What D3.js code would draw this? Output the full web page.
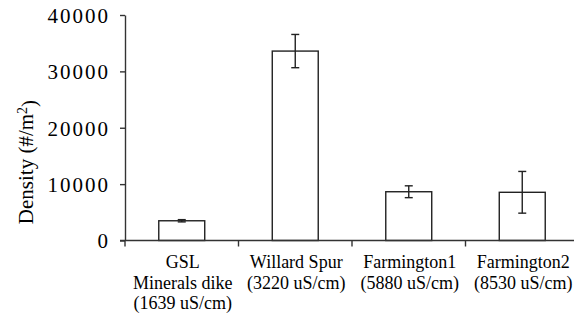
<!DOCTYPE html>
<html>
<head>
<meta charset="utf-8">
<script src="https://cdn.jsdelivr.net/npm/d3@7"></script>
<style>
  html, body { margin: 0; padding: 0; background: #fff; }
  svg { display: block; }
</style>
</head>
<body>
<svg id="chart" width="574" height="320"></svg>
<script>
// Site names and conductivity, one entry of lines per category
const categories = ["GSL", "Willard Spur", "Farmington1", "Farmington2"];
const categoryLines = [
  ["GSL", "Minerals dike", "(1639 uS/cm)"],
  ["Willard Spur", "(3220 uS/cm)"],
  ["Farmington1", "(5880 uS/cm)"],
  ["Farmington2", "(8530 uS/cm)"]
];
// Mean density and its error (#/m²)
const densities = [3500, 33600, 8650, 8550];
const errors = [200, 2950, 1050, 3700];
const yTicks = [0, 10000, 20000, 30000, 40000];

const serif = "'Times New Roman', 'Liberation Serif', Times, serif";
const svg = d3.select("#chart").attr("font-family", serif);
const axisColor = "#333";

const x = d3.scaleBand().domain(categories).range([125, 579]).padding(0);
const y = d3.scaleLinear().domain([0, 40000]).range([240.5, 15]);

const barW = x.bandwidth() * 0.405;
const cx = c => x(c) + x.bandwidth() / 2;

// Bars
svg.append("g").selectAll("rect")
  .data(categories)
  .join("rect")
  .attr("x", (c) => cx(c) - barW / 2)
  .attr("y", (c, i) => y(densities[i]))
  .attr("width", barW)
  .attr("height", (c, i) => y(0) - y(densities[i]))
  .attr("fill", "#fff")
  .attr("stroke", "#222")
  .attr("stroke-width", 1.4);

// Error bars
const capHalf = 4;
const eb = svg.append("g").attr("stroke", "#222").attr("stroke-width", 1.4);
categories.forEach((c, i) => {
  const hi = y(densities[i] + errors[i]);
  const lo = y(densities[i] - errors[i]);
  eb.append("line").attr("x1", cx(c)).attr("x2", cx(c)).attr("y1", hi).attr("y2", lo);
  eb.append("line").attr("x1", cx(c) - capHalf).attr("x2", cx(c) + capHalf).attr("y1", hi).attr("y2", hi);
  eb.append("line").attr("x1", cx(c) - capHalf).attr("x2", cx(c) + capHalf).attr("y1", lo).attr("y2", lo);
});

// Y axis
const yAxis = svg.append("g")
  .attr("transform", "translate(125,0)")
  .call(d3.axisLeft(y).tickValues(yTicks).tickSize(5).tickSizeOuter(0).tickFormat(d3.format("d")));
yAxis.attr("font-family", serif).attr("font-size", 21);
yAxis.selectAll("path, line").attr("stroke", axisColor).attr("stroke-width", 1.4);
yAxis.selectAll("text")
  .attr("x", -15)
  .attr("dy", "0.35em")
  .attr("font-family", serif)
  .attr("font-size", 21)
  .attr("letter-spacing", 2)
  .attr("fill", "#000");

// X axis with ticks at category boundaries
const xAxisG = svg.append("g");
xAxisG.append("line")
  .attr("x1", 120).attr("x2", 574)
  .attr("y1", y(0)).attr("y2", y(0))
  .attr("stroke", axisColor).attr("stroke-width", 1.4);
xAxisG.selectAll("line.tick")
  .data(categories)
  .join("line")
  .attr("class", "tick")
  .attr("x1", c => x(c)).attr("x2", c => x(c))
  .attr("y1", y(0)).attr("y2", y(0) + 6)
  .attr("stroke", axisColor).attr("stroke-width", 1.4);

// Category labels
const lineBase = 268;
const lineGap = 20.5;
categoryLines.forEach((lines, i) => {
  const t = svg.append("text")
    .attr("text-anchor", "middle")
    .attr("font-family", serif)
    .attr("font-size", 18)
    .attr("fill", "#000");
  lines.forEach((ln, k) => {
    t.append("tspan")
      .attr("x", cx(categories[i]) + 1)
      .attr("y", lineBase + k * lineGap)
      .text(ln);
  });
});

// Y axis title
const title = svg.append("text")
  .attr("transform", "translate(33,162) rotate(-90)")
  .attr("text-anchor", "middle")
  .attr("font-family", serif)
  .attr("font-size", 21)
  .attr("fill", "#000");
title.append("tspan").text("Density (#/m");
title.append("tspan").attr("dy", "-0.4em").attr("font-size", 14).text("2");
title.append("tspan").attr("dy", "0.4em").text(")");
</script>
</body>
</html>
